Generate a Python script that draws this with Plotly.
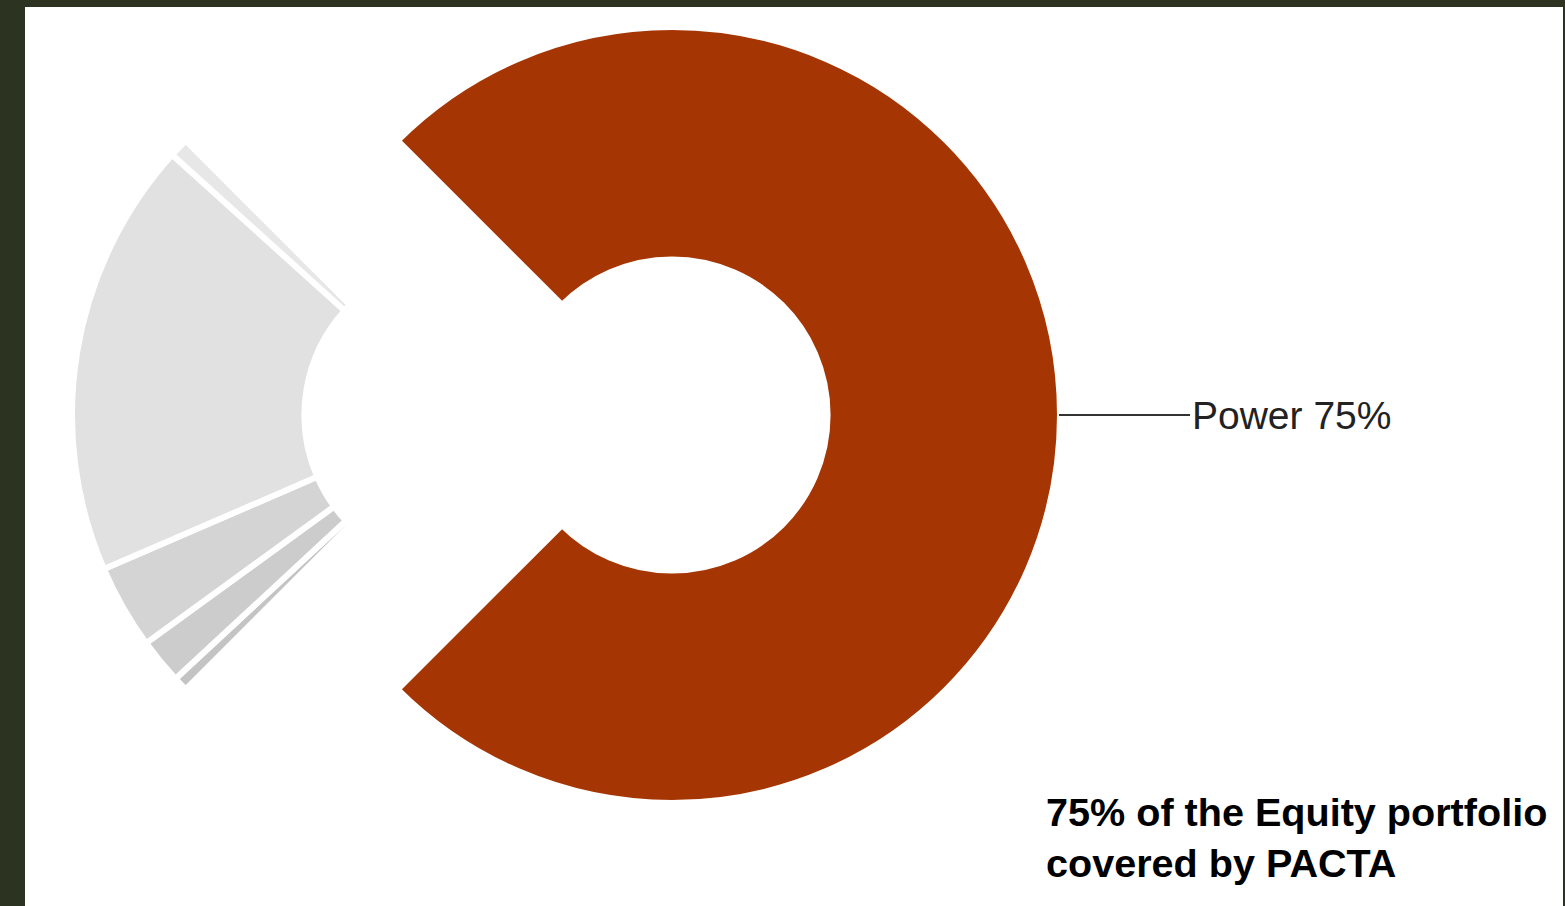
import plotly.graph_objects as go

# Portfolio breakdown by sector (% of equity portfolio)
sectors = ["Power", "Coal", "Oil & Gas", "Automotive", "Other sectors", "Steel"]
shares = [75.0, 0.6, 1.9, 3.5, 18.2, 0.8]
sector_colors = ["#a53603", "#c4c4c4", "#cccccc", "#d4d4d4", "#e1e1e1", "#e7e7e7"]
covered_sector = "Power"
caption_lines = ["of the Equity portfolio", "covered by PACTA"]

# Canvas geometry (pixels)
FIG_W, FIG_H = 1565, 906
ML, MR, MT, MB = 25, 2, 7, 0
PLOT_W, PLOT_H = FIG_W - ML - MR, FIG_H - MT - MB
CENTER_X, CENTER_Y = 672, 415      # donut centre
RADIUS = 388                        # outer radius
HOLE = 0.401                        # inner / outer radius
GROUP_OFFSET = 212                  # the uncovered sectors are pulled out together
GAP = 6                             # white separator width
TRANSPARENT = "rgba(0,0,0,0)"


def domain_for(cx, cy, r):
    return dict(
        x=[(cx - r - ML) / PLOT_W, (cx + r - ML) / PLOT_W],
        y=[(FIG_H - MB - (cy + r)) / PLOT_H, (FIG_H - MB - (cy - r)) / PLOT_H],
    )


covered_idx = sectors.index(covered_sector)
covered_share = shares[covered_idx]

# rotate so the covered slice sits centred on the 3 o'clock direction
rotation = 90 - covered_share / 100 * 360 / 2

common = dict(
    labels=sectors,
    values=shares,
    sort=False,
    direction="clockwise",
    rotation=rotation,
    hole=HOLE,
    textinfo="none",
    hoverinfo="label+percent",
    showlegend=False,
)

fig = go.Figure()

# covered slice, at the donut centre
fig.add_trace(go.Pie(
    **common,
    domain=domain_for(CENTER_X, CENTER_Y, RADIUS),
    marker=dict(
        colors=[c if s == covered_sector else TRANSPARENT for s, c in zip(sectors, sector_colors)],
        line=dict(color=["white" if s == covered_sector else TRANSPARENT for s in sectors], width=GAP),
    ),
))

# remaining sectors, shifted left as one group
fig.add_trace(go.Pie(
    **common,
    domain=domain_for(CENTER_X - GROUP_OFFSET, CENTER_Y, RADIUS),
    marker=dict(
        colors=[TRANSPARENT if s == covered_sector else c for s, c in zip(sectors, sector_colors)],
        line=dict(color=[TRANSPARENT if s == covered_sector else "white" for s in sectors], width=GAP),
    ),
))

# label for the covered slice with a horizontal leader line
edge_x = (CENTER_X + RADIUS - GAP / 2 - ML) / PLOT_W
edge_y = (FIG_H - MB - CENTER_Y) / PLOT_H
fig.add_annotation(
    x=edge_x, y=edge_y, xref="paper", yref="paper",
    text=f"{covered_sector} {covered_share:.0f}%",
    showarrow=True, arrowhead=0, arrowwidth=1.8, arrowcolor="#333333",
    standoff=2, ax=133, ay=0, xanchor="left", yanchor="middle",
    font=dict(family="Liberation Sans, Arial, sans-serif", size=39, color="#222222"),
)

# caption
fig.add_annotation(
    x=(1044 - ML) / PLOT_W, y=(FIG_H - MB - 788) / PLOT_H, xref="paper", yref="paper",
    text=f"<b>{covered_share:.0f}% {caption_lines[0]}<br>{caption_lines[1]}</b>",
    showarrow=False, xanchor="left", yanchor="top", align="left",
    font=dict(family="Liberation Sans, Arial, sans-serif", size=39.6, color="#000000"),
)

# white canvas inside the dark frame
fig.add_shape(type="rect", xref="paper", yref="paper", x0=0, x1=1, y0=0, y1=1,
              fillcolor="white", line=dict(width=0), layer="below")

fig.update_layout(
    width=FIG_W, height=FIG_H,
    margin=dict(l=ML, r=MR, t=MT, b=MB),
    paper_bgcolor="#2c3320",
    plot_bgcolor="white",
)

fig.write_html("out.html")
